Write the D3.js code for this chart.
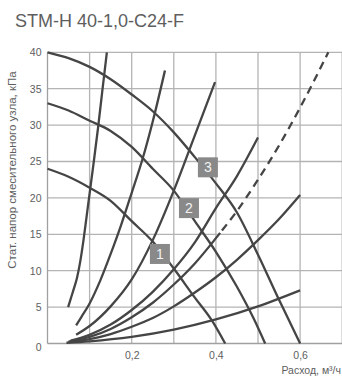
<!DOCTYPE html>
<html><head><meta charset="utf-8">
<script src="https://cdn.jsdelivr.net/npm/d3@7"></script>
<style>
html,body{margin:0;padding:0;background:#fff;}
svg{display:block;font-family:"Liberation Sans",Arial,sans-serif;}
</style></head>
<body><svg id="c" width="342" height="376"></svg>
<script>
// ---- data ----
const title = "STM-H 40-1,0-C24-F";
const yTitle = "Стат. напор смесительного узла, кПа";
const xTitle = "Расход, м³/ч";
const xTickValues = [0.2, 0.4, 0.6];
const xTickLabels = ["0,2", "0,4", "0,6"];
const yTickValues = [0, 5, 10, 15, 20, 25, 30, 35, 40];
const xGrid = [0.1, 0.2, 0.3, 0.4, 0.5, 0.6, 0.7];
const yGrid = [5, 10, 15, 20, 25, 30, 35, 40];

// pump (head) curves 1..3
const pump1X = [0, 0.05, 0.1, 0.15, 0.2, 0.25, 0.3, 0.35, 0.39, 0.422];
const pump1Y = [24, 22.9, 21.4, 19.6, 16.8, 14.0, 10.3, 6.3, 3.2, 0];
const pump2X = [0, 0.05, 0.1, 0.15, 0.2, 0.25, 0.3, 0.35, 0.4, 0.45, 0.49, 0.517];
const pump2Y = [33, 32, 30.6, 29.2, 27.0, 24, 21, 16.8, 12.6, 7.8, 3.4, 0];
const pump3X = [0, 0.05, 0.1, 0.15, 0.2, 0.25, 0.3, 0.35, 0.4, 0.45, 0.5, 0.55, 0.6];
const pump3Y = [40, 39.2, 38, 36.3, 34.2, 31.9, 29, 25.6, 22, 18, 12.2, 6, 0];
const pumpLabels = ["1", "2", "3"];
const labelX = [0.267, 0.336, 0.381];
const labelY = [12.3, 18.6, 24.2];

// system (valve) curves
const sysAX = [0.049, 0.056, 0.063, 0.07, 0.077, 0.085, 0.093, 0.1, 0.11, 0.12, 0.13, 0.141];
const sysAY = [5, 6.3, 7.6, 9, 11, 14, 17.5, 20.6, 25, 29.6, 34.6, 40];
const sysBX = [0.068, 0.08, 0.1, 0.125, 0.15, 0.175, 0.2, 0.225, 0.25, 0.279];
const sysBY = [2.5, 3.6, 5.5, 8.6, 12.3, 16.3, 20.7, 25.2, 30.5, 37.5];
const sysCX = [0.068, 0.1, 0.15, 0.2, 0.25, 0.3, 0.35, 0.398];
const sysCY = [1.2, 2.4, 5.1, 8.8, 14.2, 21, 28.6, 35.9];
const sysDX = [0.055, 0.1, 0.15, 0.2, 0.25, 0.3, 0.35, 0.4, 0.45, 0.5];
const sysDY = [0.4, 1.2, 2.6, 4.6, 7.1, 10.2, 13.9, 18.6, 23, 28.3];
const sysEX = [0.05, 0.1, 0.15, 0.2, 0.25, 0.3, 0.35, 0.4, 0.45, 0.5, 0.55, 0.6];
const sysEY = [0.2, 0.6, 1.3, 2.3, 3.5, 5.1, 7, 9.1, 11.5, 14.2, 17.1, 20.4];
const sysFX = [0.045, 0.1, 0.2, 0.3, 0.4, 0.5, 0.6];
const sysFY = [0.1, 0.3, 0.9, 1.9, 3.3, 5.1, 7.3];
const sysGX = [0.05, 0.1, 0.15, 0.2, 0.25, 0.3, 0.35, 0.41];
const sysGY = [0.25, 0.9, 2, 3.6, 5.6, 8.1, 11, 15.2];
const sysGDashX = [0.41, 0.45, 0.5, 0.55, 0.6, 0.667];
const sysGDashY = [15.2, 18.2, 22.5, 27.2, 32.4, 40];

// ---- drawing ----
const svg = d3.select("#c");
const x = d3.scaleLinear().domain([0, 0.7]).range([47.5, 342.2]);
const y = d3.scaleLinear().domain([0, 40]).range([343.5, 52.3]);
const gridColor = "#b4b4b4";
const lineColor = "#454545";
const textColor = "#5e5e5e";

svg.append("text").attr("x", 15).attr("y", 26.5)
  .attr("font-size", 18).attr("fill", textColor).text(title);

const grid = svg.append("g");
grid.selectAll("line.v").data(xGrid).join("line")
  .attr("x1", d => x(d)).attr("x2", d => x(d))
  .attr("y1", y(0)).attr("y2", y(40))
  .attr("stroke", gridColor).attr("stroke-width", 1.3);
grid.selectAll("line.h").data(yGrid).join("line")
  .attr("x1", x(0)).attr("x2", x(0.7))
  .attr("y1", d => y(d)).attr("y2", d => y(d))
  .attr("stroke", gridColor).attr("stroke-width", 1.3);
grid.append("line").attr("x1", x(0)).attr("x2", x(0))
  .attr("y1", y(0)).attr("y2", y(40)).attr("stroke", "#a0a0a0").attr("stroke-width", 1.3);
grid.append("line").attr("x1", x(0)).attr("x2", x(0.7))
  .attr("y1", y(0)).attr("y2", y(0)).attr("stroke", "#a0a0a0").attr("stroke-width", 1.3);

// axes (labels only)
const yAxis = svg.append("g").attr("transform", `translate(${x(0)},0)`)
  .call(d3.axisLeft(y).tickValues(yTickValues).tickSize(0).tickPadding(6).tickFormat(d3.format("d")));
yAxis.select(".domain").remove();
yAxis.selectAll("text").attr("font-size", 10.5).attr("fill", textColor)
  .attr("font-family", "Liberation Sans, Arial, sans-serif")
  .attr("dy", d => d === 0 ? "0.7em" : "0.32em");

const xAxis = svg.append("g").attr("transform", `translate(0,${y(0)})`)
  .call(d3.axisBottom(x).tickValues(xTickValues).tickSize(0).tickPadding(8)
    .tickFormat((d, i) => xTickLabels[i]));
xAxis.select(".domain").remove();
xAxis.selectAll("text").attr("font-size", 10.5).attr("fill", textColor)
  .attr("font-family", "Liberation Sans, Arial, sans-serif");

svg.append("text").attr("x", 341).attr("y", 374).attr("text-anchor", "end")
  .attr("font-size", 10.5).attr("fill", textColor).text(xTitle);
svg.append("text").attr("transform", `translate(15.5,170) rotate(-90)`)
  .attr("text-anchor", "middle").attr("font-size", 11.5).attr("fill", textColor).text(yTitle);

// curves
const line = d3.line().x(d => x(d[0])).y(d => y(d[1])).curve(d3.curveMonotoneX);
const zip = (a, b) => a.map((v, i) => [v, b[i]]);
const curves = [
  zip(sysAX, sysAY), zip(sysBX, sysBY), zip(sysCX, sysCY), zip(sysDX, sysDY),
  zip(sysEX, sysEY), zip(sysFX, sysFY), zip(sysGX, sysGY),
  zip(pump1X, pump1Y), zip(pump2X, pump2Y), zip(pump3X, pump3Y)
];
svg.append("g").selectAll("path").data(curves).join("path")
  .attr("d", line).attr("fill", "none").attr("stroke", lineColor)
  .attr("stroke-width", 2.3).attr("stroke-linecap", "butt");
svg.append("path").datum(zip(sysGDashX, sysGDashY))
  .attr("d", line).attr("fill", "none").attr("stroke", lineColor)
  .attr("stroke-width", 2.3).attr("stroke-dasharray", "8,5.5").attr("stroke-dashoffset", -3);

// label boxes
const lab = svg.append("g").selectAll("g").data(pumpLabels).join("g")
  .attr("transform", (d, i) => `translate(${x(labelX[i])},${y(labelY[i])})`);
lab.append("rect").attr("x", -10).attr("y", -10).attr("width", 20).attr("height", 20)
  .attr("fill", "#898989");
lab.append("text").attr("text-anchor", "middle").attr("dy", "0.36em")
  .attr("font-size", 14).attr("fill", "#f2f2f2").text(d => d);
</script></body></html>
